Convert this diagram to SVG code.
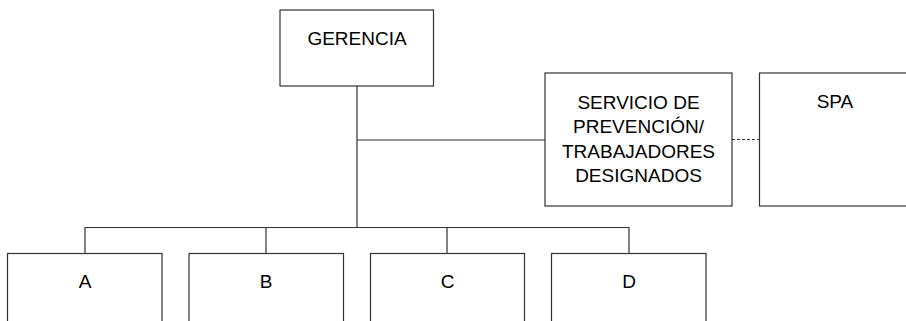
<svg xmlns="http://www.w3.org/2000/svg" width="906" height="321" viewBox="0 0 906 321">
<style>
.box{fill:#fff;stroke:#333;stroke-width:1.2}
.t{font-family:"Liberation Sans",Arial,sans-serif;font-size:19px;fill:#000;text-anchor:middle}
.c{fill:none;stroke:#333;stroke-width:1.2}
.d{fill:none;stroke:#333;stroke-width:1.2;stroke-dasharray:3 2}
</style>
<rect width="906" height="321" fill="#fff"/>
<g id="connectors">
<path class="c" d="M357 86V227.5M357 140H545M85 253.5V227.5H629V253.5M266 227.5V253.5M447 227.5V253.5"/>
<path class="d" d="M732 139.5H759"/>
</g>
<g id="gerencia"><rect class="box" x="280" y="10" width="153.5" height="76"/><text class="t" x="357" y="44.5">GERENCIA</text></g>
<g id="servicio"><rect class="box" x="545" y="73" width="187" height="133"/>
<text class="t" x="638.5" y="108.5">SERVICIO DE</text>
<text class="t" x="638.5" y="133">PREVENCIÓN/</text>
<text class="t" x="638.5" y="157.5">TRABAJADORES</text>
<text class="t" x="638.5" y="182">DESIGNADOS</text></g>
<g id="spa"><rect class="box" x="759.5" y="73" width="152" height="133"/><text class="t" x="835" y="107.5">SPA</text></g>
<g id="a"><rect class="box" x="7.5" y="253.5" width="154.5" height="80"/><text class="t" x="85" y="288">A</text></g>
<g id="b"><rect class="box" x="189" y="253.5" width="154.5" height="80"/><text class="t" x="266" y="288">B</text></g>
<g id="c"><rect class="box" x="370.5" y="253.5" width="154" height="80"/><text class="t" x="447.5" y="288">C</text></g>
<g id="dn"><rect class="box" x="551.5" y="253.5" width="154.5" height="80"/><text class="t" x="629" y="288">D</text></g>
</svg>
